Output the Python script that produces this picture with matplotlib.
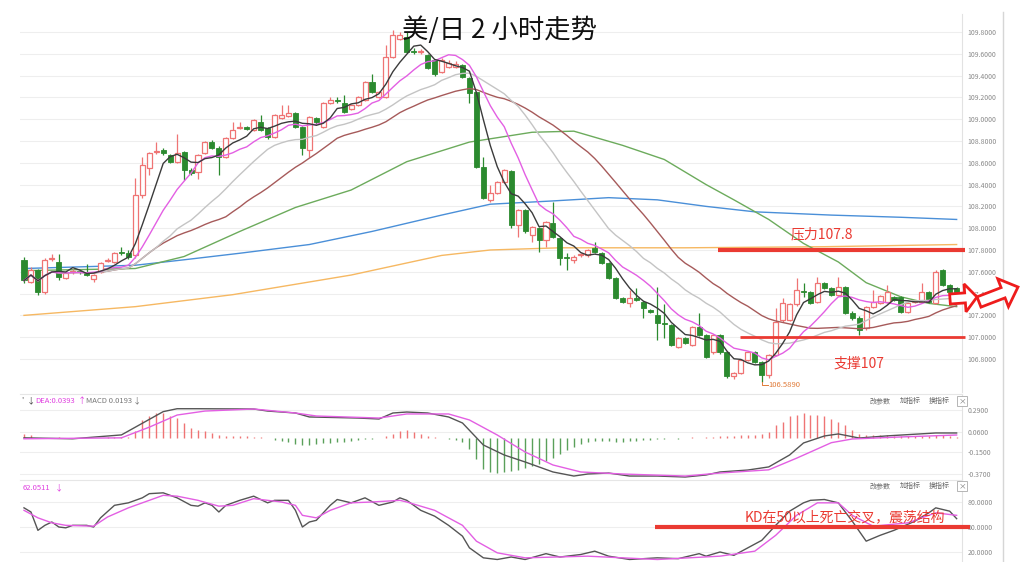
import matplotlib
matplotlib.use("Agg")
import matplotlib.pyplot as plt
from matplotlib.patches import Polygon, Rectangle
import numpy as np
import pandas as pd

plt.rcParams['font.family'] = ['Noto Sans CJK SC', 'DejaVu Sans']

# ---------------- data ----------------
opens = [107.71, 107.51, 107.62, 107.41, 107.72, 107.69, 107.54, 107.60, 107.61, 107.59,
         107.53, 107.60, 107.70, 107.69, 107.78, 107.77, 107.75, 108.30, 108.55, 108.70,
         108.72, 108.67, 108.61, 108.70, 108.53, 108.52, 108.69, 108.79, 108.74, 108.65,
         108.83, 108.92, 108.93, 108.90, 108.97, 108.92, 108.84, 109.01, 109.03, 109.06,
         108.93, 108.72, 109.01, 108.93, 109.15, 109.18, 109.15, 109.09, 109.13, 109.18,
         109.34, 109.20, 109.20, 109.57, 109.74, 109.75, 109.63, 109.62, 109.59, 109.54,
         109.43, 109.48, 109.48, 109.50, 109.38, 109.25, 108.56, 108.26, 108.32, 108.42,
         108.52, 108.03, 108.17, 107.94, 108.00, 107.89, 108.05, 107.91, 107.74, 107.71,
         107.75, 107.75, 107.82, 107.77, 107.68, 107.54, 107.36, 107.31, 107.36, 107.32,
         107.25, 107.20, 107.13, 107.11, 106.91, 106.99, 106.93, 107.09, 107.02, 106.86,
         107.02, 106.86, 106.64, 106.67, 106.79, 106.86, 106.77, 106.65, 106.84, 107.16,
         107.16, 107.30, 107.42, 107.41, 107.32, 107.50, 107.45, 107.39, 107.46, 107.22,
         107.18, 107.08, 107.28, 107.31, 107.32, 107.37, 107.37, 107.23, 107.32, 107.32,
         107.41, 107.31, 107.62, 107.48, 107.45]
highs = [107.74, 107.64, 107.63, 107.73, 107.76, 107.76, 107.61, 107.63, 107.62, 107.67,
         107.58, 107.69, 107.73, 107.78, 107.83, 107.80, 108.46, 108.65, 108.70, 108.79,
         108.74, 108.68, 108.86, 108.71, 108.55, 108.68, 108.80, 108.81, 108.75, 108.84,
         108.97, 108.97, 108.94, 109.00, 109.04, 108.93, 109.05, 109.13, 109.13, 109.07,
         108.94, 109.03, 109.02, 109.16, 109.20, 109.20, 109.22, 109.14, 109.21, 109.35,
         109.41, 109.26, 109.68, 109.82, 109.80, 109.80, 109.65, 109.64, 109.60, 109.55,
         109.56, 109.54, 109.53, 109.51, 109.39, 109.26, 108.65, 108.40, 108.43, 108.54,
         108.53, 108.18, 108.18, 108.02, 108.01, 108.07, 108.24, 107.92, 107.77, 107.75,
         107.77, 107.81, 107.87, 107.78, 107.69, 107.55, 107.37, 107.43, 107.45, 107.33,
         107.26, 107.46, 107.30, 107.12, 107.00, 107.00, 107.10, 107.22, 107.03, 107.03,
         107.03, 106.87, 106.68, 106.80, 106.87, 106.87, 106.78, 106.85, 107.27, 107.36,
         107.31, 107.54, 107.50, 107.42, 107.55, 107.51, 107.46, 107.55, 107.47, 107.24,
         107.19, 107.29, 107.43, 107.39, 107.48, 107.38, 107.38, 107.32, 107.34, 107.50,
         107.42, 107.62, 107.63, 107.49, 107.46]
lows = [107.50, 107.50, 107.39, 107.40, 107.70, 107.52, 107.53, 107.58, 107.58, 107.56,
        107.51, 107.59, 107.69, 107.68, 107.75, 107.72, 107.73, 108.28, 108.49, 108.68,
        108.67, 108.60, 108.60, 108.44, 108.49, 108.45, 108.68, 108.73, 108.49, 108.64,
        108.82, 108.91, 108.90, 108.89, 108.89, 108.82, 108.83, 109.00, 109.02, 108.92,
        108.67, 108.65, 108.95, 108.92, 109.14, 109.15, 109.06, 109.08, 109.12, 109.17,
        109.24, 109.19, 109.19, 109.56, 109.73, 109.61, 109.60, 109.60, 109.46, 109.40,
        109.42, 109.47, 109.47, 109.38, 109.15, 108.55, 108.27, 108.24, 108.31, 108.41,
        108.00, 107.92, 107.96, 107.87, 107.78, 107.83, 107.91, 107.66, 107.62, 107.68,
        107.74, 107.74, 107.77, 107.67, 107.53, 107.35, 107.31, 107.28, 107.33, 107.18,
        107.22, 106.97, 106.99, 106.92, 106.90, 106.94, 106.92, 107.01, 106.81, 106.85,
        106.85, 106.63, 106.62, 106.66, 106.78, 106.76, 106.589, 106.63, 106.83, 107.14,
        107.15, 107.29, 107.37, 107.30, 107.31, 107.44, 107.38, 107.38, 107.21, 107.16,
        107.02, 107.07, 107.27, 107.30, 107.31, 107.33, 107.22, 107.22, 107.31, 107.31,
        107.31, 107.30, 107.47, 107.40, 107.39]
closes = [107.52, 107.62, 107.41, 107.71, 107.73, 107.55, 107.59, 107.61, 107.60, 107.57,
          107.57, 107.68, 107.71, 107.77, 107.77, 107.74, 108.30, 108.58, 108.69, 108.71,
          108.69, 108.61, 108.69, 108.53, 108.51, 108.67, 108.79, 108.74, 108.65, 108.83,
          108.90, 108.93, 108.91, 108.99, 108.90, 108.84, 109.04, 109.04, 109.06, 108.93,
          108.74, 109.02, 108.97, 109.15, 109.18, 109.17, 109.07, 109.13, 109.20, 109.34,
          109.25, 109.25, 109.57, 109.77, 109.77, 109.62, 109.62, 109.62, 109.47, 109.41,
          109.54, 109.52, 109.51, 109.39, 109.24, 108.56, 108.28, 108.32, 108.42, 108.53,
          108.03, 108.17, 107.97, 108.01, 107.89, 108.06, 107.92, 107.73, 107.73, 107.74,
          107.76, 107.80, 107.78, 107.68, 107.54, 107.36, 107.32, 107.36, 107.34, 107.27,
          107.23, 107.13, 107.12, 106.93, 106.99, 106.95, 107.09, 107.02, 106.82, 107.02,
          106.86, 106.64, 106.67, 106.79, 106.86, 106.77, 106.65, 106.84, 107.14, 107.31,
          107.30, 107.43, 107.41, 107.31, 107.50, 107.45, 107.39, 107.46, 107.22, 107.18,
          107.07, 107.28, 107.32, 107.38, 107.41, 107.34, 107.23, 107.31, 107.33, 107.41,
          107.32, 107.60, 107.48, 107.41, 107.41]

# long moving averages (candle index, price)
ma60_idx = [0, 16, 23, 31, 39, 47, 55, 64, 73, 79, 86, 92, 98, 102, 107, 112, 117, 121, 126, 130, 134]
ma60_val = [107.61, 107.63, 107.74, 107.97, 108.19, 108.35, 108.61, 108.79, 108.88, 108.89, 108.76,
            108.63, 108.40, 108.26, 108.08, 107.86, 107.69, 107.50, 107.37, 107.31, 107.28]
ma120_idx = [0, 16, 23, 31, 41, 50, 60, 67, 76, 84, 91, 98, 105, 116, 126, 134]
ma120_val = [107.63, 107.66, 107.71, 107.77, 107.85, 107.97, 108.12, 108.22, 108.25, 108.28, 108.26,
             108.20, 108.15, 108.12, 108.10, 108.08]
ma250_idx = [0, 16, 30, 47, 60, 67, 77, 95, 115, 134]
ma250_val = [107.20, 107.28, 107.39, 107.57, 107.75, 107.80, 107.82, 107.82, 107.83, 107.85]

# MACD panel
dif_idx = [0, 7, 14, 16, 20, 22, 25, 33, 35, 39, 41, 48, 51, 53, 55, 58, 61, 63, 66, 69, 72, 76, 79,
           81, 84, 87, 91, 95, 98, 100, 104, 107, 110, 112, 115, 117, 120, 124, 131, 134]
dif_val = [0.0, -0.01, 0.03, 0.11, 0.27, 0.30, 0.30, 0.297, 0.276, 0.256, 0.215, 0.204, 0.194, 0.256,
           0.266, 0.256, 0.215, 0.153, -0.074, -0.177, -0.249, -0.352, -0.394, -0.373, -0.363, -0.394,
           -0.394, -0.404, -0.383, -0.352, -0.332, -0.30, -0.177, -0.053, 0.019, 0.04, -0.002, 0.02,
           0.05, 0.05]
dea_idx = [0, 14, 18, 22, 26, 33, 39, 42, 51, 55, 61, 64, 68, 72, 76, 80, 86, 95, 100, 107, 111, 116,
           119, 126, 134]
dea_val = [-0.01, 0.0, 0.11, 0.235, 0.276, 0.297, 0.256, 0.225, 0.204, 0.246, 0.246, 0.184, 0.029,
           -0.146, -0.28, -0.352, -0.373, -0.394, -0.363, -0.33, -0.21, -0.05, -0.012, 0.009, 0.029]
macd_hist = [0.04, 0.03, 0.0, -0.005, 0.0, 0.005, 0.0, 0.0, 0.0, 0.0,
             0.0, 0.0, 0.005, 0.005, 0.005, 0.01, 0.07, 0.18, 0.23, 0.26,
             0.26, 0.22, 0.20, 0.15, 0.10, 0.08, 0.07, 0.05, 0.03, 0.02,
             0.02, 0.015, 0.015, 0.01, 0.01, 0.0, -0.02, -0.03, -0.04, -0.06,
             -0.07, -0.07, -0.06, -0.05, -0.05, -0.04, -0.04, -0.03, -0.02, -0.01,
             -0.01, 0.0, 0.02, 0.04, 0.07, 0.08, 0.06, 0.04, 0.02, 0.01,
             0.0, -0.01, -0.02, -0.04, -0.12, -0.22, -0.32, -0.35, -0.36, -0.35,
             -0.34, -0.33, -0.31, -0.29, -0.27, -0.24, -0.21, -0.17, -0.13, -0.09,
             -0.06, -0.04, -0.03, -0.03, -0.03, -0.04, -0.04, -0.03, -0.03, -0.02,
             -0.02, -0.01, -0.01, 0.0, -0.01, 0.0, 0.01, 0.0, 0.01, 0.01,
             0.02, 0.02, 0.02, 0.03, 0.03, 0.03, 0.04, 0.06, 0.13, 0.16,
             0.22, 0.24, 0.26, 0.24, 0.24, 0.22, 0.19, 0.16, 0.13, 0.08,
             0.04, 0.03, 0.03, 0.03, 0.03, 0.02, 0.02, 0.02, 0.02, 0.02,
             0.02, 0.03, 0.03, 0.02, 0.01]

# KD panel
k_idx = [0, 1, 2, 3, 4, 5, 6, 7, 9, 10, 11, 13, 15, 17, 18, 20, 21, 22, 24, 25, 26, 27, 28, 29, 31,
         33, 35, 36, 38, 39, 40, 41, 42, 44, 45, 47, 49, 51, 53, 54, 55, 57, 59, 61, 63, 64, 66, 68,
         70, 72, 75, 77, 80, 82, 84, 87, 91, 94, 97, 98, 100, 102, 104, 106, 108, 110, 112, 113,
         115, 117, 119, 121, 123, 125, 128, 130, 131, 133, 134]
k_val = [73, 68, 46, 52, 56, 50, 49, 52, 52, 50, 61, 76, 79, 85, 90, 91, 88, 85, 76, 75, 79, 76,
         68, 76, 82, 87, 79, 82, 82, 70, 50, 56, 58, 76, 83, 79, 85, 76, 80, 85, 82, 70, 63, 52,
         39, 25, 13, 11, 14, 11, 18, 14, 17, 21, 15, 11, 13, 12, 18, 15, 20, 16, 25, 34, 52, 69,
         79, 82, 83, 79, 57, 33, 40, 46, 57, 67, 73, 69, 60]
d_idx = [0, 2, 4, 6, 10, 12, 15, 18, 20, 22, 25, 28, 30, 33, 37, 39, 40, 42, 44, 47, 50, 54, 55,
         59, 63, 65, 68, 72, 81, 91, 100, 105, 108, 111, 114, 117, 119, 122, 127, 131, 134]
d_val = [70, 61, 55, 52, 51, 62, 73, 82, 88, 87, 82, 75, 76, 84, 80, 76, 64, 61, 70, 79, 80, 82, 80,
         70, 52, 33, 19, 13, 15, 11, 15, 21, 40, 64, 79, 79, 64, 51, 55, 67, 64]

price_ticks = [109.8, 109.6, 109.4, 109.2, 109.0, 108.8, 108.6, 108.4, 108.2, 108.0,
               107.8, 107.6, 107.4, 107.2, 107.0, 106.8]
macd_ticks = [0.29, 0.06, -0.15, -0.37]
kd_ticks = [80, 50, 20]

resistance = 107.8
support = 107.0
low_label = 106.589
kd_level = 50

# ---------------- figure ----------------
W, H = 1024, 562
fig = plt.figure(figsize=(W / 100, H / 100), dpi=100)
fig.patch.set_facecolor('white')


def fx(px):
    return px / W


def fy(py):
    return 1 - py / H


AX_L, AX_R = 20, 962
X0_PIX, DX_PIX = 24, 6.96
xlim = ((AX_L - X0_PIX) / DX_PIX, (AX_R - X0_PIX) / DX_PIX)

PINK = '#ef7474'
GREEN = '#2b8a2f'
GRID = '#eeeeee'
TICKC = '#8a8a8a'

ax = fig.add_axes([fx(AX_L), fy(392), (AX_R - AX_L) / W, (392 - 14) / H])
axm = fig.add_axes([fx(AX_L), fy(479), (AX_R - AX_L) / W, (479 - 394) / H])
axk = fig.add_axes([fx(AX_L), 0, (AX_R - AX_L) / W, (562 - 480) / H])

for a in (ax, axm, axk):
    a.set_xlim(*xlim)
    a.set_xticks([])
    a.yaxis.tick_right()
    a.tick_params(axis='y', length=0, pad=4, labelsize=5, labelcolor=TICKC)
    for s in ('left', 'bottom'):
        a.spines[s].set_visible(False)
    a.spines['right'].set_color('#e2e2e2')
    a.spines['right'].set_linewidth(0.8)
    a.spines['top'].set_color('#e6e6e6')
    a.spines['top'].set_linewidth(0.8)
    a.set_facecolor('none')
ax.spines['top'].set_visible(False)

# price axis
ax.set_ylim(106.497, 109.965)
ax.set_yticks(price_ticks)
ax.set_yticklabels([f'{t:.4f}' for t in price_ticks])
for t in price_ticks:
    ax.axhline(t, color=GRID, lw=0.8, zorder=0)

idx = np.arange(len(closes))
o = np.array(opens); h = np.array(highs); l = np.array(lows); c = np.array(closes)
up = c >= o
dn = ~up
body_lo = np.minimum(o, c)
body_hi = np.maximum(o, c)
body_h = np.maximum(body_hi - body_lo, 0.008)

# wicks
ax.vlines(idx[dn], l[dn], h[dn], color=GREEN, lw=0.9, zorder=3)
ax.vlines(idx[up], l[up], body_lo[up], color=PINK, lw=0.9, zorder=3)
ax.vlines(idx[up], body_lo[up] + body_h[up], h[up], color=PINK, lw=0.9, zorder=3)
# bodies
ax.bar(idx[dn], body_h[dn], bottom=body_lo[dn], width=0.72, color=GREEN,
       edgecolor=GREEN, lw=0.6, zorder=4)
ax.bar(idx[up], body_h[up], bottom=body_lo[up], width=0.72, color='white',
       edgecolor=PINK, lw=0.9, zorder=4)

# moving averages
cs = pd.Series(closes)
ma5 = cs.rolling(5, min_periods=1).mean()
ma10 = cs.rolling(10, min_periods=1).mean()
ma20 = cs.rolling(20, min_periods=1).mean()
ma30 = cs.rolling(30, min_periods=1).mean()
ax.plot(ma250_idx, ma250_val, color='#f6b862', lw=1.0, zorder=2)
ax.plot(ma120_idx, ma120_val, color='#4a8fd8', lw=1.0, zorder=2)
ax.plot(ma60_idx, ma60_val, color='#6cab5c', lw=1.0, zorder=2)
ax.plot(idx, ma30, color='#a65a5a', lw=1.0, zorder=5)
ax.plot(idx, ma20, color='#c4c4c4', lw=1.0, zorder=5)
ax.plot(idx, ma10, color='#e35fe3', lw=1.0, zorder=5)
ax.plot(idx, ma5, color='#3b3b3b', lw=1.0, zorder=6)

# support / resistance
RED = '#ea3a32'
ax.plot([99.7, 135.2], [resistance, resistance], color=RED, lw=3.0, clip_on=False, zorder=7,
        solid_capstyle='butt')
ax.plot([102.9, 135.2], [support, support], color=RED, lw=2.0, clip_on=False, zorder=7,
        solid_capstyle='butt')
ax.text(114.6, resistance + 0.14, f'压力{resistance}', color=RED, fontsize=10,
        ha='center', va='center', zorder=8)
ax.text(119.9, support - 0.24, f'支撑{support:g}', color=RED, fontsize=10,
        ha='center', va='center', zorder=8)

# low annotation
lo_i = int(np.argmin(l))
ax.plot([lo_i, lo_i, lo_i + 0.9], [low_label, low_label - 0.03, low_label - 0.03],
        color='#e07b39', lw=0.7, zorder=7)
ax.text(lo_i + 1.0, low_label - 0.03, f'{low_label:.4f}', color='#e07b39', fontsize=5.5,
        ha='left', va='center', zorder=7)

# ---------------- MACD ----------------
axm.set_ylim(-0.4245, 0.4518)
axm.set_yticks(macd_ticks)
axm.set_yticklabels([f'{t:.4f}' for t in macd_ticks])
for t in macd_ticks:
    axm.axhline(t, color=GRID, lw=0.8, zorder=0)
hist = np.array(macd_hist)
hcol = [PINK if v >= 0 else '#5aa05a' for v in hist]
axm.vlines(idx, 0, hist, colors=hcol, lw=1.0, zorder=2)
axm.plot(dif_idx, dif_val, color='#555555', lw=1.0, zorder=3)
axm.plot(dea_idx, dea_val, color='#e35fe3', lw=1.0, zorder=3)

# ---------------- KD ----------------
axk.set_ylim(8, 106.4)
axk.set_yticks(kd_ticks)
axk.set_yticklabels([f'{t:.4f}' for t in kd_ticks])
for t in kd_ticks:
    axk.axhline(t, color=GRID, lw=0.8, zorder=0)
axk.plot(k_idx, k_val, color='#555555', lw=1.0, zorder=3)
axk.plot(d_idx, d_val, color='#e35fe3', lw=1.0, zorder=3)
axk.plot([90.7, 135.9], [kd_level, kd_level], color=RED, lw=3.0, clip_on=False, zorder=5,
         solid_capstyle='butt')
axk.text(118.0, kd_level + 12, 'KD在50以上死亡交叉，震荡结构', color=RED, fontsize=10,
         ha='center', va='center', zorder=6)

# ---------------- headers / controls ----------------
fig.text(fx(500), fy(30), '美/日 2 小时走势', fontsize=19, color='#111111',
         ha='center', va='center', zorder=20)

hdr_y = fy(401)
fig.text(fx(21), hdr_y, "'", fontsize=5.5, color='#555555', va='center')
fig.text(fx(27), hdr_y, '↓', fontsize=6, color='#444444', va='center')
fig.text(fx(35), hdr_y, 'DEA:0.0393', fontsize=5.5, color='#e040e0', va='center')
fig.text(fx(78), hdr_y, '↑', fontsize=6, color='#e040e0', va='center')
fig.text(fx(86), hdr_y, 'MACD 0.0193', fontsize=5.5, color='#777777', va='center')
fig.text(fx(133), hdr_y, '↓', fontsize=6, color='#777777', va='center')

fig.text(fx(23), fy(488), '62.0511', fontsize=5.5, color='#e040e0', va='center')
fig.text(fx(55), fy(488), '↓', fontsize=6, color='#e040e0', va='center')

for yy in (401, 486):
    for xx, s in ((870, '改参数'), (900, '加指标'), (929, '换指标')):
        fig.text(fx(xx), fy(yy), s, fontsize=5, color='#666666', va='center')
    fig.patches.append(Rectangle((fx(957), fy(yy + 5)), 10 / W, 10 / H, transform=fig.transFigure,
                                 facecolor='white', edgecolor='#aaaaaa', lw=0.6))
    fig.text(fx(962), fy(yy), '×', fontsize=5.5, color='#777777', ha='center', va='center')

# outer right border
fig.add_artist(plt.Line2D([fx(1003), fx(1003)], [fy(12), 0], transform=fig.transFigure,
                          color='#d6d6d6', lw=1.0))


def arrow(x0, y0, x1, y1, w, hw, hl):
    d = np.array([x1 - x0, y1 - y0], float)
    d /= np.hypot(*d)
    n = np.array([-d[1], d[0]])
    tail = np.array([x0, y0], float)
    tip = np.array([x1, y1], float)
    neck = tip - d * hl
    pts = [tail + n * w / 2, neck + n * w / 2, neck + n * hw / 2, tip,
           neck - n * hw / 2, neck - n * w / 2, tail - n * w / 2]
    pts = [(fx(p[0]), fy(p[1])) for p in pts]
    fig.patches.append(Polygon(pts, closed=True, transform=fig.transFigure,
                               facecolor='white', edgecolor='#ee1c1c', lw=2.0, zorder=30))


arrow(950, 299, 977, 297, 10, 28, 12)
arrow(979, 302, 1018, 287, 11, 30, 16)

fig.savefig('out.png', dpi=100)
